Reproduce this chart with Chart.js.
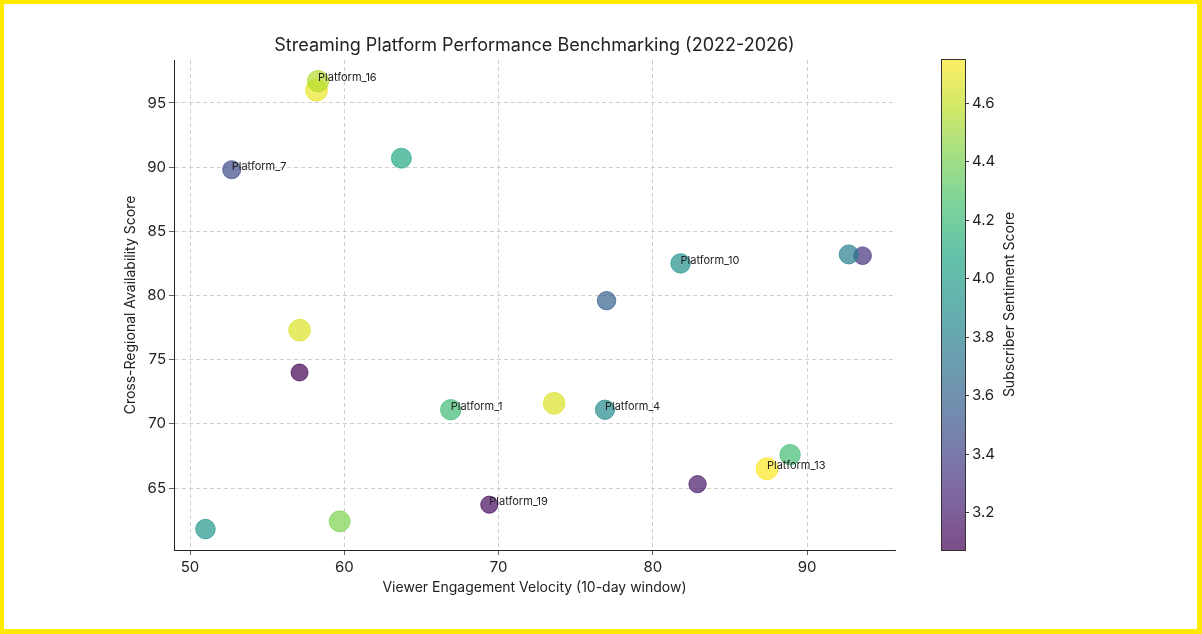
<!DOCTYPE html>
<html>
<head>
<meta charset="utf-8">
<script src="https://cdn.jsdelivr.net/npm/chart.js@4/dist/chart.umd.min.js"></script>
<style>
  html, body { margin: 0; padding: 0; background: #fff; }
  #wrap { position: relative; width: 1202px; height: 634px; }
  #frame { position: absolute; left: 0; top: 0; right: 0; bottom: 0; border: 4px solid #ffea00; border-right-width: 5px; border-bottom-width: 5px; pointer-events: none; }
</style>
</head>
<body>
<div id="wrap">
  <canvas id="chart" width="1202" height="634"></canvas>
  <div id="frame"></div>
</div>
<script>
const platforms = ['Platform_1', 'Platform_2', 'Platform_3', 'Platform_4', 'Platform_5', 'Platform_6',
  'Platform_7', 'Platform_8', 'Platform_9', 'Platform_10', 'Platform_11', 'Platform_12', 'Platform_13',
  'Platform_14', 'Platform_15', 'Platform_16', 'Platform_17', 'Platform_18', 'Platform_19'];
const engagement = [66.9, 57.1, 93.6, 76.9, 63.7, 57.1, 52.7, 92.7, 77.0, 81.8, 73.6, 88.9, 87.4, 58.2, 82.9, 58.3, 51.0, 59.7, 69.4];
const availability = [71.1, 77.3, 83.1, 71.1, 90.7, 74.0, 89.8, 83.2, 79.6, 82.5, 71.6, 67.6, 66.5, 96.0, 65.3, 96.7, 61.8, 62.4, 63.7];
const sentiment = [4.22, 4.66, 3.30, 3.86, 4.08, 3.07, 3.45, 3.78, 3.58, 3.92, 4.66, 4.24, 4.75, 4.70, 3.18, 4.56, 3.95, 4.42, 3.12];
const labeledPlatforms = ['Platform_1', 'Platform_4', 'Platform_7', 'Platform_10', 'Platform_13', 'Platform_16', 'Platform_19'];
const xTicks = [50, 60, 70, 80, 90];
const yTicks = [65, 70, 75, 80, 85, 90, 95];
const cbarTicks = [3.2, 3.4, 3.6, 3.8, 4.0, 4.2, 4.4, 4.6];

const FONT = 'Inter, "Noto Sans", sans-serif';
const sMin = Math.min(...sentiment);
const sMax = Math.max(...sentiment);

// viridis stops
const viridisStops = ['#440154', '#482475', '#414487', '#355f8d', '#2a788e', '#21918c', '#22a884', '#44bf70', '#7ad151', '#bddf26', '#fde725'];
function hexRgb(h) {
  return [parseInt(h.slice(1, 3), 16), parseInt(h.slice(3, 5), 16), parseInt(h.slice(5, 7), 16)];
}
function viridis(t, alpha) {
  t = Math.max(0, Math.min(1, t));
  const pos = t * (viridisStops.length - 1);
  const i = Math.min(Math.floor(pos), viridisStops.length - 2);
  const f = pos - i;
  const a = hexRgb(viridisStops[i]), b = hexRgb(viridisStops[i + 1]);
  const c = a.map((v, k) => Math.round(v + (b[k] - v) * f));
  return `rgba(${c[0]},${c[1]},${c[2]},${alpha})`;
}
const norm = v => (v - sMin) / (sMax - sMin);

const extras = {
  id: 'extras',
  afterDatasetsDraw(chart) {
    const ctx = chart.ctx;
    const meta = chart.getDatasetMeta(0);
    ctx.save();
    ctx.fillStyle = '#222';
    ctx.font = '11px ' + FONT;
    ctx.textAlign = 'left';
    ctx.textBaseline = 'middle';
    platforms.forEach((name, i) => {
      if (!labeledPlatforms.includes(name)) return;
      const pt = meta.data[i];
      ctx.fillText(name, pt.x, pt.y - 3);
    });
    ctx.restore();
  },
  afterDraw(chart) {
    const ctx = chart.ctx;
    const area = chart.chartArea;
    ctx.save();
    // title
    ctx.fillStyle = '#222';
    ctx.font = '18px ' + FONT;
    ctx.textAlign = 'center';
    ctx.textBaseline = 'middle';
    ctx.fillText('Streaming Platform Performance Benchmarking (2022-2026)', (area.left + area.right) / 2, 46);

    // colorbar
    const cx = 941, cw = 24, top = area.top - 1, bottom = area.bottom;
    const grad = ctx.createLinearGradient(0, bottom, 0, top);
    for (let k = 0; k <= 20; k++) grad.addColorStop(k / 20, viridis(k / 20, 0.7));
    ctx.fillStyle = grad;
    ctx.fillRect(cx, top, cw, bottom - top);
    ctx.strokeStyle = '#333';
    ctx.lineWidth = 1;
    ctx.strokeRect(cx + 0.5, top + 0.5, cw, bottom - top);
    const toY = v => bottom - (v - sMin) / (sMax - sMin) * (bottom - top);
    ctx.fillStyle = '#222';
    ctx.font = '15px ' + FONT;
    ctx.textAlign = 'left';
    ctx.textBaseline = 'middle';
    cbarTicks.forEach(v => {
      const y = Math.round(toY(v)) + 0.5;
      ctx.beginPath();
      ctx.moveTo(cx + cw, y);
      ctx.lineTo(cx + cw + 4, y);
      ctx.stroke();
      ctx.fillText(v.toFixed(1), cx + cw + 7, y);
    });
    ctx.translate(1010, (top + bottom) / 2);
    ctx.rotate(-Math.PI / 2);
    ctx.textAlign = 'center';
    ctx.font = '14px ' + FONT;
    ctx.fillText('Subscriber Sentiment Score', 0, 0);
    ctx.restore();
  }
};

const axisCommon = {
  type: 'linear',
  grid: { color: '#c4c4c4', lineWidth: 0.8, tickColor: '#333', tickLength: 5, tickBorderDash: [] },
  border: { display: true, color: '#222', width: 1, dash: [4, 3] },
  ticks: { color: '#222', font: { family: FONT, size: 15 }, padding: 3 }
};

new Chart(document.getElementById('chart'), {
  type: 'scatter',
  data: {
    datasets: [{
      data: engagement.map((x, i) => ({ x: x, y: availability[i] })),
      pointBackgroundColor: c => viridis(norm(sentiment[c.dataIndex]), 0.7),
      pointBorderColor: c => viridis(norm(sentiment[c.dataIndex]), 0.7),
      pointBorderWidth: 1,
      pointRadius: c => 8.5 + norm(sentiment[c.dataIndex]) * 2.5
    }]
  },
  options: {
    responsive: false,
    animation: false,
    events: [],
    layout: { padding: { top: 60, left: 118, right: 307, bottom: 34 } },
    plugins: { legend: { display: false }, tooltip: { enabled: false } },
    scales: {
      x: {
        ...axisCommon,
        min: 48.96, max: 95.7,
        afterBuildTicks: s => { s.ticks = xTicks.map(v => ({ value: v })); },
        afterFit: s => { s.height = 50; },
        title: { display: true, text: 'Viewer Engagement Velocity (10-day window)', color: '#222', font: { family: FONT, size: 14 }, padding: 4 }
      },
      y: {
        ...axisCommon,
        min: 60.17, max: 98.35,
        afterBuildTicks: s => { s.ticks = yTicks.map(v => ({ value: v })); },
        afterFit: s => { s.width = 56; },
        title: { display: true, text: 'Cross-Regional Availability Score', color: '#222', font: { family: FONT, size: 14 }, padding: 4 }
      }
    }
  },
  plugins: [extras]
});
</script>
</body>
</html>
